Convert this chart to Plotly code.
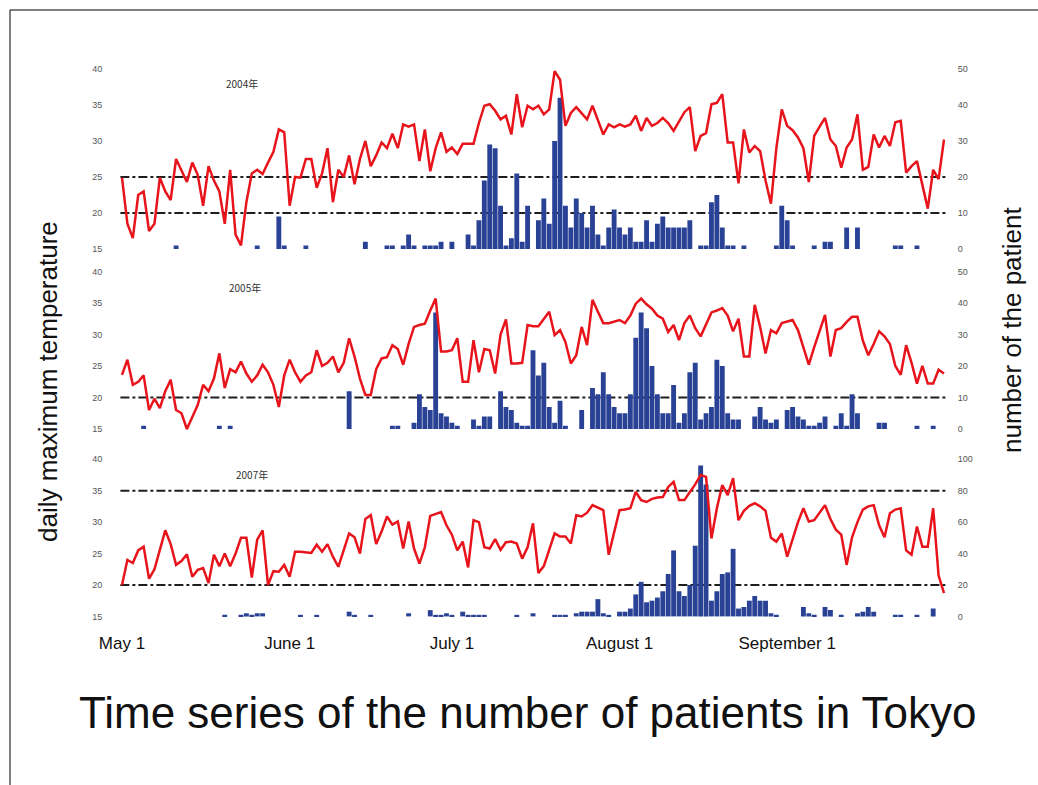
import plotly.graph_objects as go

# ---- data -------------------------------------------------------------
days = list(range(153))                     # day index, May 1 = 0 ... Sep 30 = 152
month_ticks = [0, 31, 61, 92, 123]
month_labels = ["May 1", "June 1", "July 1", "August 1", "September 1"]

panel_years = ["2004年", "2005年", "2007年"]

temp_2004 = [
    24.9, 18.5, 16.5, 22.5, 23.0, 17.5, 18.5, 24.9, 23.0, 21.8,
    27.5, 26.0, 24.3, 27.0, 25.3, 21.0, 26.5, 24.5, 23.0, 18.5,
    26.0, 17.0, 15.5, 21.5, 25.5, 26.0, 25.4, 27.0, 28.5, 31.6,
    31.2, 21.0, 25.0, 24.9, 27.5, 27.5, 23.5, 25.5, 29.0, 21.5,
    26.0, 25.0, 28.0, 24.0, 27.5, 30.0, 26.5, 28.0, 29.8, 29.0,
    31.0, 29.0, 32.3, 32.0, 32.3, 27.2, 31.6, 25.8, 29.0, 31.2,
    28.5, 29.1, 28.2, 29.6, 29.6, 29.6, 32.5, 34.9, 35.1, 34.2,
    33.0, 33.5, 30.9, 36.5, 31.9, 34.9, 34.4, 34.9, 33.7, 34.4,
    39.7, 38.5, 32.1, 33.9, 34.7, 33.8, 33.0, 34.9, 33.0, 30.9,
    32.3, 31.9, 32.3, 32.0, 32.3, 33.5, 31.4, 33.2, 32.1, 32.5,
    33.2, 32.5, 31.4, 32.8, 34.0, 34.7, 28.6, 30.7, 31.1, 35.1,
    35.3, 36.5, 29.8, 29.8, 24.1, 31.6, 28.4, 29.3, 28.6, 24.5,
    21.3, 29.0, 34.4, 32.1, 31.5, 30.5, 29.0, 24.3, 30.7, 32.0,
    33.2, 30.2, 29.3, 26.3, 29.1, 30.2, 33.7, 26.0, 26.4, 30.9,
    29.1, 30.7, 29.3, 32.6, 32.8, 25.6, 26.5, 27.2, 24.1, 20.6,
    26.0, 24.7, 30.2,
]
cases_2004 = [
    0, 0, 0, 0, 0, 0, 0, 0, 0, 0,
    1, 0, 0, 0, 0, 0, 0, 0, 0, 0,
    0, 0, 0, 0, 0, 1, 0, 0, 0, 9,
    1, 0, 0, 0, 1, 0, 0, 0, 0, 0,
    0, 0, 0, 0, 0, 2, 0, 0, 0, 1,
    1, 0, 1, 4, 1, 0, 1, 1, 1, 2,
    0, 2, 0, 0, 4, 1, 8, 19, 29, 28,
    12, 1, 3, 21, 2, 12, 0, 8, 14, 7,
    30, 42, 12, 6, 14, 10, 6, 12, 4, 1,
    6, 11, 6, 4, 6, 2, 2, 8, 2, 7,
    9, 6, 6, 6, 6, 8, 0, 1, 1, 13,
    15, 6, 1, 1, 0, 1, 0, 0, 0, 0,
    0, 1, 12, 8, 1, 0, 0, 0, 1, 0,
    2, 2, 0, 0, 6, 0, 6, 0, 0, 0,
    0, 0, 0, 1, 1, 0, 0, 1, 0, 0,
    0, 0, 0,
]

temp_2005 = [
    23.6, 26.0, 22.0, 22.5, 23.5, 18.0, 19.8, 18.3, 21.0, 22.8,
    18.0, 17.5, 15.0, 16.8, 18.8, 22.0, 21.0, 23.0, 27.0, 21.5,
    24.5, 24.0, 25.7, 23.8, 22.5, 23.5, 25.2, 24.0, 22.0, 18.5,
    23.5, 26.0, 24.0, 22.5, 23.5, 24.0, 27.5, 25.0, 25.5, 26.5,
    24.0, 25.5, 29.4, 26.5, 23.0, 20.4, 20.4, 24.5, 26.2, 26.4,
    28.3, 27.7, 25.2, 28.5, 31.2, 31.5, 31.7, 33.8, 35.7, 27.3,
    27.3, 27.5, 29.4, 22.5, 22.5, 29.1, 24.0, 27.7, 27.5, 23.8,
    30.0, 32.4, 25.4, 25.4, 25.5, 31.5, 31.3, 31.3, 32.5, 33.6,
    29.9, 30.7, 28.8, 25.4, 26.7, 31.2, 28.3, 35.5, 33.6, 31.8,
    31.8, 32.0, 32.3, 31.8, 33.0, 34.9, 35.7, 34.8, 34.1, 33.0,
    32.5, 30.4, 31.5, 29.1, 31.8, 33.0, 31.0, 29.7, 31.5, 33.5,
    33.8, 34.2, 33.0, 30.5, 32.5, 26.5, 26.5, 34.7, 31.2, 27.0,
    30.7, 30.2, 31.8, 32.0, 32.3, 30.7, 28.0, 25.2, 28.0, 30.5,
    33.1, 26.5, 30.7, 31.0, 32.0, 32.8, 32.8, 29.0, 26.7, 28.5,
    30.5, 29.7, 28.5, 25.0, 23.6, 28.3, 25.5, 22.2, 25.0, 22.2,
    22.2, 24.4, 23.8,
]
cases_2005 = [
    0, 0, 0, 0, 1, 0, 0, 0, 0, 0,
    0, 0, 0, 0, 0, 0, 0, 0, 1, 0,
    1, 0, 0, 0, 0, 0, 0, 0, 0, 0,
    0, 0, 0, 0, 0, 0, 0, 0, 0, 0,
    0, 0, 12, 0, 0, 0, 0, 0, 0, 0,
    1, 1, 0, 0, 2, 11, 7, 6, 37, 5,
    4, 2, 1, 0, 0, 3, 1, 4, 4, 0,
    12, 7, 6, 2, 1, 1, 25, 17, 21, 7,
    2, 9, 1, 0, 0, 6, 0, 13, 11, 18,
    11, 7, 5, 5, 11, 29, 37, 32, 20, 11,
    5, 5, 14, 2, 5, 18, 21, 3, 5, 7,
    22, 20, 5, 3, 3, 0, 0, 4, 7, 3,
    2, 3, 0, 6, 7, 4, 3, 1, 1, 2,
    4, 0, 1, 5, 1, 11, 5, 0, 0, 0,
    2, 2, 0, 0, 0, 0, 0, 1, 0, 0,
    1, 0, 0,
]

temp_2007 = [
    20.0, 24.0, 23.5, 25.5, 26.1, 21.0, 22.5, 25.5, 28.7, 26.5,
    23.2, 23.8, 24.9, 21.3, 22.4, 22.7, 20.3, 24.8, 23.0, 25.0,
    23.0, 25.0, 27.5, 27.5, 21.2, 27.2, 28.7, 20.0, 22.2, 22.1,
    23.2, 21.3, 25.3, 25.3, 25.2, 25.1, 26.4, 25.3, 26.5, 24.5,
    22.9, 25.5, 28.2, 27.6, 25.0, 30.5, 31.1, 26.5, 28.5, 30.9,
    29.6, 30.1, 25.8, 30.1, 25.8, 23.4, 26.0, 31.0, 31.3, 31.6,
    29.5, 28.0, 25.5, 26.9, 22.8, 30.3, 30.0, 26.0, 25.8, 27.3,
    25.6, 26.8, 26.9, 26.6, 24.2, 26.0, 29.8, 21.9, 23.0, 25.5,
    28.2, 27.7, 27.7, 26.6, 31.1, 30.9, 31.5, 32.7, 32.3, 31.9,
    24.8, 28.5, 31.9, 32.0, 32.2, 34.8, 33.5, 33.2, 33.7, 33.9,
    34.0, 35.6, 36.4, 33.5, 33.5, 34.8, 36.0, 37.5, 37.2, 27.4,
    32.2, 35.9, 34.3, 37.0, 30.3, 31.8, 32.6, 33.0, 32.5, 31.8,
    27.5, 26.9, 28.2, 24.5, 27.4, 30.0, 32.2, 30.1, 30.3, 31.5,
    32.7, 30.5, 28.8, 28.0, 23.2, 27.6, 30.0, 32.0, 32.5, 32.7,
    29.5, 27.6, 31.4, 32.0, 32.2, 25.5, 24.8, 29.3, 26.1, 26.1,
    32.2, 21.5, 18.7,
]
cases_2007 = [
    0, 0, 0, 0, 0, 0, 0, 0, 0, 0,
    0, 0, 0, 0, 0, 0, 0, 0, 0, 1,
    0, 0, 1, 2, 1, 2, 2, 0, 0, 0,
    0, 0, 0, 1, 0, 0, 1, 0, 0, 0,
    0, 0, 3, 1, 0, 0, 1, 0, 0, 0,
    0, 0, 0, 2, 0, 0, 0, 4, 1, 1,
    2, 1, 0, 3, 1, 1, 1, 1, 0, 0,
    0, 0, 0, 1, 0, 0, 2, 0, 0, 0,
    1, 1, 1, 0, 2, 3, 3, 3, 11, 2,
    1, 0, 3, 3, 5, 14, 22, 9, 10, 12,
    16, 27, 42, 16, 13, 20, 45, 96, 84, 10,
    16, 27, 28, 43, 5, 6, 10, 13, 10, 10,
    2, 1, 0, 0, 0, 0, 6, 2, 1, 0,
    6, 4, 0, 1, 0, 0, 2, 3, 6, 3,
    0, 0, 0, 1, 1, 0, 0, 1, 0, 0,
    5, 0, 0,
]

# reference temperature levels (°C) drawn as dash-dot lines
levels_2004 = [25, 20]
levels_2005 = [20]
levels_2007 = [35, 20]

temp_ticks = [15, 20, 25, 30, 35, 40]
case_ticks_2004 = [0, 10, 20, 30, 40, 50]
case_ticks_2005 = [0, 10, 20, 30, 40, 50]
case_ticks_2007 = [0, 20, 40, 60, 80, 100]

# ---- layout helpers --------------------------------------------------
W, H = 1038, 785
RED = "#e8141c"
BLUE = "#2a4296"
FONT = "Liberation Sans, Arial, sans-serif"


def fx(px):
    return px / W


def fy(px):
    return 1 - px / H


panels = [
    dict(year=panel_years[0], temps=temp_2004, cases=cases_2004, levels=levels_2004,
         cticks=case_ticks_2004, top=62, bottom=262,
         trange=[13.19, 40.97], crange=[-3.61, 51.94], label_xy=(242, 84)),
    dict(year=panel_years[1], temps=temp_2005, cases=cases_2005, levels=levels_2005,
         cticks=case_ticks_2005, top=265, bottom=440,
         trange=[13.25, 41.03], crange=[-3.49, 52.06], label_xy=(245, 288)),
    dict(year=panel_years[2], temps=temp_2007, cases=cases_2007, levels=levels_2007,
         cticks=case_ticks_2007, top=450, bottom=625,
         trange=[13.64, 41.47], crange=[-5.47, 105.9], label_xy=(252, 474)),
]

fig = go.Figure()
layout = dict(
    width=W, height=H,
    margin=dict(l=0, r=0, t=0, b=0, autoexpand=False),
    paper_bgcolor="white", plot_bgcolor="white",
    showlegend=False, bargap=0.1,
    font=dict(family=FONT, color="#222"),
)
shapes = []
annotations = []

tick_font = dict(family=FONT, size=9, color="#555")

for i, p in enumerate(panels):
    c_ax = 2 * i + 1          # counts axis (base, right side)
    t_ax = 2 * i + 2          # temperature axis (overlay, left side)
    c_name = "y" if c_ax == 1 else f"y{c_ax}"
    t_name = f"y{t_ax}"
    c_key = "yaxis" if c_ax == 1 else f"yaxis{c_ax}"
    t_key = f"yaxis{t_ax}"

    fig.add_trace(go.Bar(x=days, y=p["cases"], xaxis="x", yaxis=c_name,
                         marker=dict(color=BLUE, line=dict(width=0))))
    fig.add_trace(go.Scatter(x=days, y=p["temps"], xaxis="x", yaxis=t_name,
                             mode="lines", line=dict(color=RED, width=2.5)))

    dom = [fy(p["bottom"]), fy(p["top"])]
    layout[c_key] = dict(domain=dom, range=p["crange"], anchor="x", side="right",
                         tickvals=p["cticks"], ticks="", showgrid=False, zeroline=False,
                         showline=False, tickfont=tick_font, ticklabelstandoff=10,
                         automargin=False)
    layout[t_key] = dict(overlaying=c_name, range=p["trange"], anchor="x", side="left",
                         tickvals=temp_ticks, ticks="", showgrid=False, zeroline=False,
                         showline=False, tickfont=tick_font, ticklabelstandoff=16,
                         automargin=False)

    for lv in p["levels"]:
        shapes.append(dict(type="line", xref="x", yref=t_name, x0=-0.3, x1=152.8,
                           y0=lv, y1=lv, layer="below",
                           line=dict(color="#1e1e1e", width=2, dash="dashdot")))

    lx, ly = p["label_xy"]
    annotations.append(dict(xref="paper", yref="paper", x=fx(lx), y=fy(ly),
                            xanchor="center", yanchor="middle",
                            text=p["year"], showarrow=False,
                            font=dict(family="Noto Sans CJK JP, " + FONT, size=10, color="#333")))

layout["xaxis"] = dict(domain=[fx(119.3), fx(946.7)], range=[-0.5, 152.5], anchor="y5",
                       tickvals=month_ticks, ticktext=month_labels, ticks="",
                       showgrid=False, zeroline=False, showline=False,
                       tickfont=dict(family=FONT, size=17, color="#111"),
                       ticklabelstandoff=6, automargin=False)

# axis titles and caption
annotations.append(dict(xref="paper", yref="paper", x=fx(48), y=fy(382),
                        xanchor="center", yanchor="middle",
                        text="daily maximum temperature", textangle=-90, showarrow=False,
                        font=dict(family=FONT, size=26, color="#111")))
annotations.append(dict(xref="paper", yref="paper", x=fx(1012), y=fy(330),
                        xanchor="center", yanchor="middle",
                        text="number of the patient", textangle=-90, showarrow=False,
                        font=dict(family=FONT, size=26, color="#111")))
annotations.append(dict(xref="paper", yref="paper", x=fx(528), y=fy(712),
                        xanchor="center", yanchor="middle",
                        text="Time series of the number of patients in Tokyo", showarrow=False,
                        font=dict(family=FONT, size=44, color="#111")))

# slide frame
shapes.append(dict(type="line", xref="paper", yref="paper", x0=fx(10), x1=1,
                   y0=fy(10), y1=fy(10), line=dict(color="black", width=1)))
shapes.append(dict(type="line", xref="paper", yref="paper", x0=fx(10), x1=fx(10),
                   y0=fy(10), y1=0, line=dict(color="black", width=1)))

layout["shapes"] = shapes
layout["annotations"] = annotations
fig.update_layout(**layout)

fig.write_html("out.html")
